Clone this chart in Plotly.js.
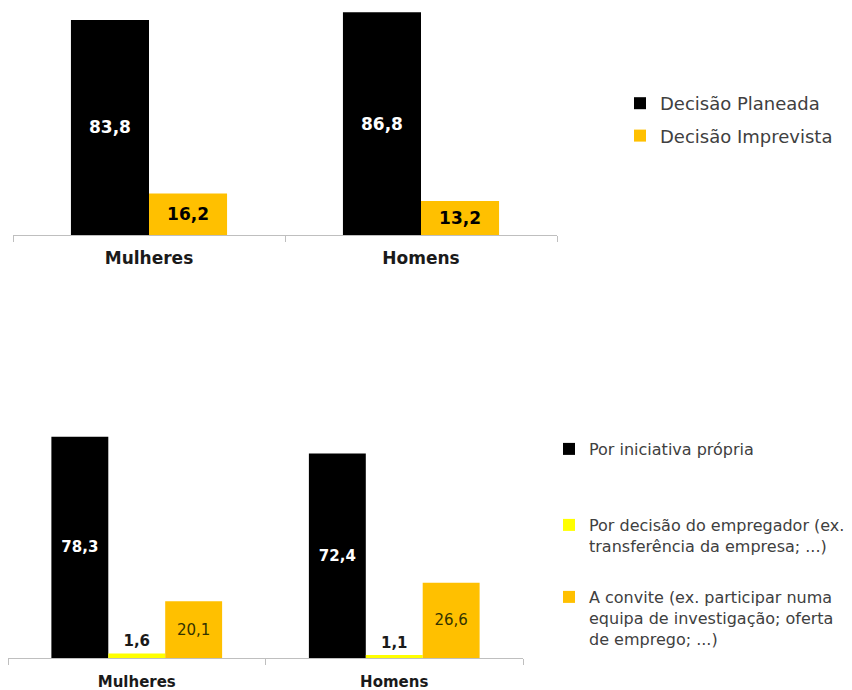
<!DOCTYPE html>
<html>
<head>
<meta charset="utf-8">
<script src="https://cdn.plot.ly/plotly-3.0.1.min.js"></script>
<style>html,body{margin:0;padding:0;background:#fff;}#chart{width:852px;height:690px;}</style>
</head>
<body>
<div id="chart"></div>
<script>
// Top chart data
const categories = ["Mulheres", "Homens"];
const topSeriesNames = ["Decisão Planeada", "Decisão Imprevista"];
const planeada = [83.8, 86.8];
const imprevista = [16.2, 13.2];

// Bottom chart data
const bottomSeriesNames = [
  "Por iniciativa própria",
  "Por decisão do empregador (ex.<br>transferência da empresa; ...)",
  "A convite (ex. participar numa<br>equipa de investigação; oferta<br>de emprego; ...)"
];
const iniciativa = [78.3, 72.4];
const empregador = [1.6, 1.1];
const convite = [20.1, 26.6];

const F = "DejaVu Sans";
const wTop = 0.287, wBot = 0.221;

const traces = [
  {type:'bar', x:categories, y:planeada, name:topSeriesNames[0], xaxis:'x', yaxis:'y',
   marker:{color:'#000000'}, width:wTop, offset:-wTop,
   texttemplate:'%{y:.1f}', textposition:'inside', insidetextanchor:'middle', textangle:0,
   textfont:{family:F, size:17, color:'#ffffff', weight:'bold'},
   legend:'legend', legendgroup:'a', hoverinfo:'none'},
  {type:'bar', x:categories, y:imprevista, name:topSeriesNames[1], xaxis:'x', yaxis:'y',
   marker:{color:'#FFC000'}, width:wTop, offset:0,
   texttemplate:'%{y:.1f}', textposition:'inside', insidetextanchor:'middle', textangle:0,
   textfont:{family:F, size:17, color:'#000000', weight:'bold'},
   legend:'legend', legendgroup:'b', hoverinfo:'none'},
  {type:'bar', x:categories, y:iniciativa, name:bottomSeriesNames[0], xaxis:'x2', yaxis:'y2',
   marker:{color:'#000000'}, width:wBot, offset:-1.5*wBot,
   texttemplate:'%{y:.1f}', textposition:'inside', insidetextanchor:'middle', textangle:0,
   textfont:{family:F, size:15, color:'#ffffff', weight:'bold'},
   legend:'legend2', hoverinfo:'none'},
  {type:'bar', x:categories, y:empregador, name:bottomSeriesNames[1], xaxis:'x2', yaxis:'y2',
   marker:{color:'#FFFF00'}, width:wBot, offset:-0.5*wBot,
   texttemplate:'%{y:.1f}', textposition:'outside', textangle:0, cliponaxis:false,
   textfont:{family:F, size:15, color:'#1a1a1a', weight:'bold'},
   legend:'legend3', hoverinfo:'none'},
  {type:'bar', x:categories, y:convite, name:bottomSeriesNames[2], xaxis:'x2', yaxis:'y2',
   marker:{color:'#FFC000'}, width:wBot, offset:0.5*wBot,
   texttemplate:'%{y:.1f}', textposition:'inside', insidetextanchor:'middle', textangle:0,
   textfont:{family:F, size:15, color:'#333300'},
   legend:'legend4', hoverinfo:'none'}
];

const axisX = {
  type:'category', showline:true, linecolor:'#bfbfbf', linewidth:1,
  ticks:'outside', tickson:'boundaries', ticklen:6, tickcolor:'#bfbfbf',
  showgrid:false, zeroline:false, fixedrange:true
};
const legendBase = {font:{family:F, size:16, color:'#404040'}, bgcolor:'rgba(0,0,0,0)',
  xanchor:'left', yanchor:'top', valign:'top'};

const layout = {
  width:852, height:690,
  margin:{l:0, r:0, t:0, b:0},
  paper_bgcolor:'#ffffff', plot_bgcolor:'#ffffff',
  separators:',.',
  barmode:'group',
  showlegend:true,
  xaxis:Object.assign({}, axisX, {domain:[13/852, 557/852], anchor:'y', range:[-0.5,1.5],
    ticklabelstandoff:8,
    tickfont:{family:F, size:17, color:'#1a1a1a', weight:'bold'}}),
  yaxis:{domain:[1-235/690, 1-4/690], range:[0,90], visible:false, anchor:'x'},
  xaxis2:Object.assign({}, axisX, {domain:[8/852, 523/852], anchor:'y2', range:[-0.5,1.5],
    ticklabelstandoff:10,
    tickfont:{family:F, size:15, color:'#1a1a1a', weight:'bold'}}),
  yaxis2:{domain:[1-658/690, 1-432/690], range:[0,80], visible:false, anchor:'x2'},
  legend:Object.assign({}, legendBase, {x:620/852, y:1-85/690, traceorder:'grouped', tracegroupgap:6,
    font:{family:F, size:18, color:'#404040'}}),
  legend2:Object.assign({}, legendBase, {x:549/852, y:1-432/690}),
  legend3:Object.assign({}, legendBase, {x:549/852, y:1-508/690}),
  legend4:Object.assign({}, legendBase, {x:549/852, y:1-580/690})
};

Plotly.newPlot('chart', traces, layout, {staticPlot:true, displayModeBar:false});
</script>
</body>
</html>
